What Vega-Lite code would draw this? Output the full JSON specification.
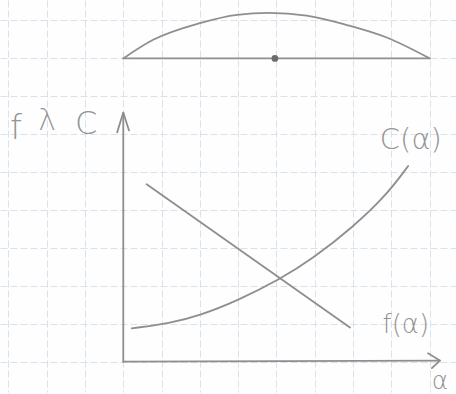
{
  "$schema": "https://vega.github.io/schema/vega-lite/v6.json",
  "width": 456,
  "height": 394,
  "padding": 0,
  "autosize": {"type": "fit", "contains": "padding"},
  "background": "#fefefe",
  "config": {
    "view": {"stroke": null},
    "axis": {
      "domain": false, "ticks": false, "labels": false, "title": null,
      "grid": true, "gridColor": "#d9e1ea", "gridDash": [7, 3], "gridWidth": 1,
      "offset": 0, "minExtent": 0, "maxExtent": 0
    }
  },
  "datasets": {
    "strokes": [
      {"part": "chord", "i": 0, "x": 0, "y": 8},
      {"part": "chord", "i": 1, "x": 8, "y": 8},
      {"part": "f", "i": 0, "x": 0.61, "y": 4.68},
      {"part": "f", "i": 1, "x": 5.92, "y": 0.9},
      {"part": "yaxis", "i": 0, "x": 0, "y": 0},
      {"part": "yaxis", "i": 1, "x": 0, "y": 6.57},
      {"part": "yarrow", "i": 0, "x": -0.16, "y": 6.05},
      {"part": "yarrow", "i": 1, "x": 0, "y": 6.57},
      {"part": "yarrow", "i": 2, "x": 0.15, "y": 6.1},
      {"part": "xaxis", "i": 0, "x": 0, "y": 0},
      {"part": "xaxis", "i": 1, "x": 8.27, "y": 0.03},
      {"part": "xarrow", "i": 0, "x": 7.96, "y": 0.22},
      {"part": "xarrow", "i": 1, "x": 8.27, "y": 0.03},
      {"part": "xarrow", "i": 2, "x": 8.06, "y": -0.17}
    ],
    "arc": [
      {"x": 0, "y": 8},
      {"x": 0.78, "y": 8.49},
      {"x": 2.0, "y": 8.93},
      {"x": 2.97, "y": 9.15},
      {"x": 3.8, "y": 9.2},
      {"x": 4.79, "y": 9.13},
      {"x": 5.84, "y": 8.88},
      {"x": 6.88, "y": 8.55},
      {"x": 8.0, "y": 8}
    ],
    "cost": [
      {"x": 0.22, "y": 0.88},
      {"x": 1.22, "y": 1.01},
      {"x": 2.0, "y": 1.22},
      {"x": 2.96, "y": 1.6},
      {"x": 4.09, "y": 2.17},
      {"x": 4.95, "y": 2.72},
      {"x": 6.0, "y": 3.55},
      {"x": 6.88, "y": 4.4},
      {"x": 7.44, "y": 5.16}
    ],
    "labels": [
      {"text": "f", "x": -2.8, "y": 6.13, "size": 34},
      {"text": "λ", "x": -1.99, "y": 6.34, "size": 30},
      {"text": "C", "x": -0.97, "y": 6.26, "size": 32},
      {"text": "C(α)", "x": 7.51, "y": 5.86, "size": 29},
      {"text": "f(α)", "x": 7.38, "y": 0.955, "size": 26},
      {"text": "α", "x": 8.27, "y": -0.5, "size": 25}
    ],
    "centre": [{"x": 3.96, "y": 8}]
  },
  "layer": [
    {
      "data": {"name": "strokes"},
      "mark": {"type": "line", "interpolate": "linear", "color": "#8e8e8e", "strokeWidth": 1.8, "strokeCap": "round", "strokeJoin": "round"},
      "encoding": {
        "x": {"field": "x", "type": "quantitative", "scale": {"domain": [-3.22, 8.69], "nice": false, "zero": false},
              "axis": {"values": [-3, -2, -1, 0, 1, 2, 3, 4, 5, 6, 7, 8]}},
        "y": {"field": "y", "type": "quantitative", "scale": {"domain": [-0.8, 9.54], "nice": false, "zero": false},
              "axis": {"values": [0, 1, 2, 3, 4, 5, 6, 7, 8, 9]}},
        "detail": {"field": "part"},
        "order": {"field": "i"}
      }
    },
    {
      "data": {"name": "arc"},
      "mark": {"type": "line", "interpolate": "monotone", "color": "#8e8e8e", "strokeWidth": 1.8, "strokeCap": "round"},
      "encoding": {
        "x": {"field": "x", "type": "quantitative"},
        "y": {"field": "y", "type": "quantitative"}
      }
    },
    {
      "data": {"name": "cost"},
      "mark": {"type": "line", "interpolate": "basis", "color": "#8e8e8e", "strokeWidth": 1.8, "strokeCap": "round"},
      "encoding": {
        "x": {"field": "x", "type": "quantitative"},
        "y": {"field": "y", "type": "quantitative"}
      }
    },
    {
      "data": {"name": "centre"},
      "mark": {"type": "point", "filled": true, "size": 45, "color": "#6c6c6c", "opacity": 1},
      "encoding": {
        "x": {"field": "x", "type": "quantitative"},
        "y": {"field": "y", "type": "quantitative"}
      }
    },
    {
      "data": {"name": "labels"},
      "mark": {"type": "text", "font": "DejaVu Sans", "fontWeight": 200, "color": "#949494", "align": "center", "baseline": "middle"},
      "encoding": {
        "x": {"field": "x", "type": "quantitative"},
        "y": {"field": "y", "type": "quantitative"},
        "text": {"field": "text"},
        "size": {"field": "size", "type": "quantitative", "scale": null}
      }
    }
  ]
}
